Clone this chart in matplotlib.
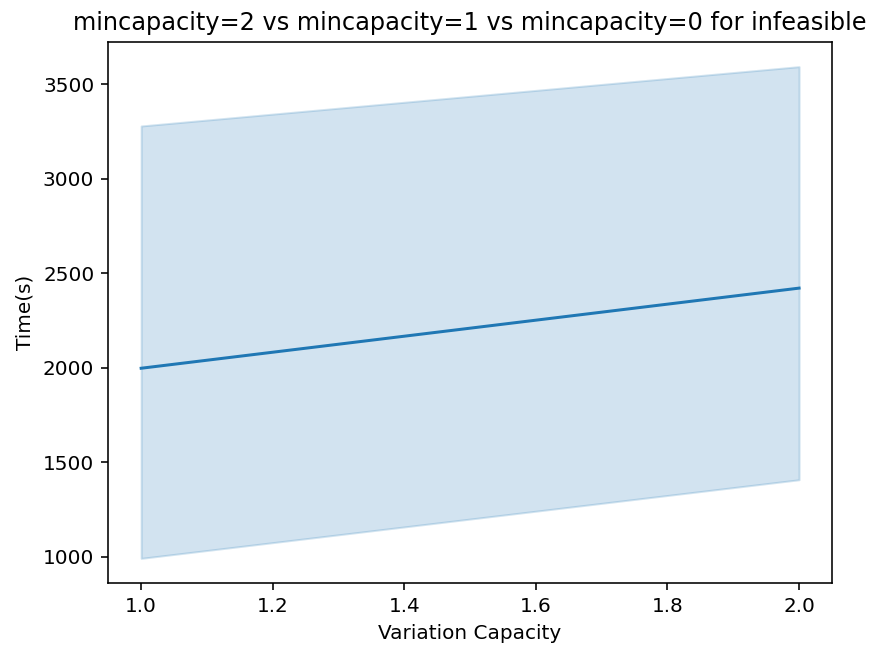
import numpy as np
import matplotlib
matplotlib.use("Agg")
import matplotlib.pyplot as plt

# Values
capacity = [1.0, 2.0]
time_mean = [1998, 2422]
time_lower = [992, 1408]
time_upper = [3280, 3594]

fig = plt.figure(figsize=(873 / 144, 647 / 144), dpi=144)
ax = fig.add_axes([0.124, 0.099, 0.829, 0.836])

ax.plot(capacity, time_mean, color="#1f77b4", linewidth=1.5)
ax.fill_between(capacity, time_lower, time_upper, color="#1f77b4", alpha=0.2)

ax.set_xlabel("Variation Capacity")
ax.set_ylabel("Time(s)")
ax.set_title("mincapacity=2 vs mincapacity=1 vs mincapacity=0 for infeasible")

fig.savefig("out.png", dpi=144)
